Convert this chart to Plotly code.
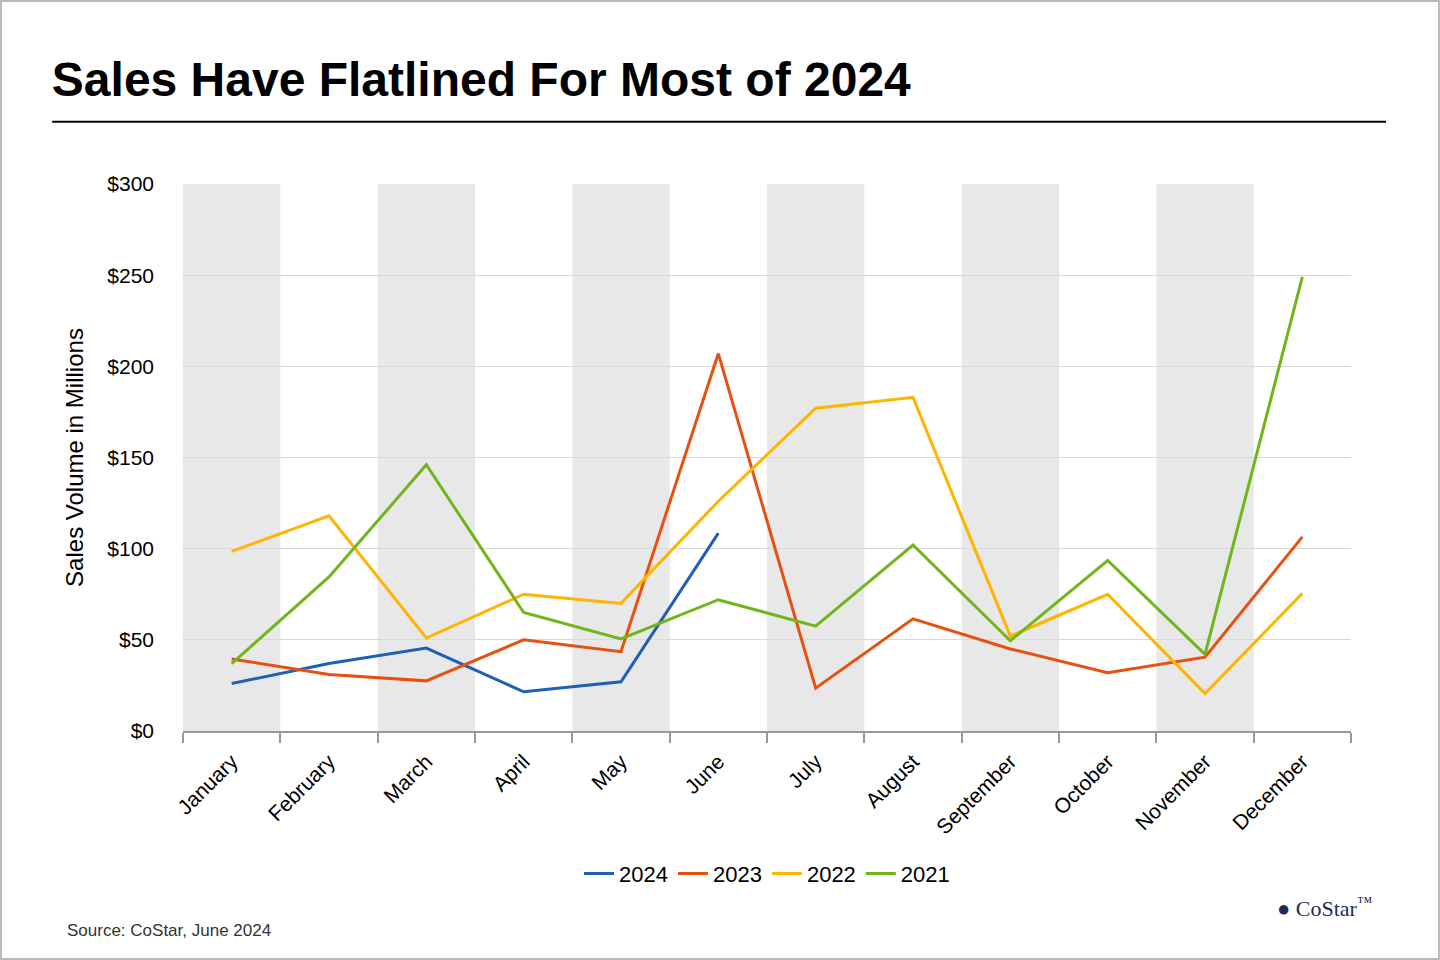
import plotly.graph_objects as go

months = ['January', 'February', 'March', 'April', 'May', 'June', 'July',
          'August', 'September', 'October', 'November', 'December']

sales_2024 = [26, 37, 45.5, 21.5, 27, 108.5]
sales_2023 = [39.5, 31, 27.5, 50, 43.5, 207, 23.5, 61.5, 45, 32, 40.5, 106.5]
sales_2022 = [98.5, 118, 51, 75, 70, 126, 177, 183, 52, 75, 20.5, 75.5]
sales_2021 = [37, 84.5, 146, 65, 50.5, 72, 57.5, 102, 49.5, 93.5, 42, 249]

series = [('2024', sales_2024, '#1f5fb4'),
          ('2023', sales_2023, '#e8500f'),
          ('2022', sales_2022, '#ffb400'),
          ('2021', sales_2021, '#72b51b')]

fig = go.Figure()

for name, vals, color in series:
    fig.add_trace(go.Scatter(x=months[:len(vals)], y=vals, name=name, mode='lines',
                             line=dict(color=color, width=3)))

# alternating shaded columns
shapes = []
for i in range(0, 12, 2):
    shapes.append(dict(type='rect', xref='x', yref='paper', x0=i - 0.5, x1=i + 0.5,
                       y0=0, y1=1, fillcolor='#e8e8e8', line_width=0, layer='below'))
shapes.append(dict(type='line', xref='paper', yref='paper', x0=-0.112, x1=1.03,
                   y0=1.114, y1=1.114, line=dict(color='black', width=2)))
shapes.append(dict(type='rect', xref='paper', yref='paper', x0=-0.1558, x1=1.0753,
                   y0=-0.4168, y1=1.3346, line=dict(color='#bbbbbb', width=2)))

fig.update_layout(
    width=1440, height=960,
    margin=dict(l=183, r=89, t=184, b=229),
    paper_bgcolor='white', plot_bgcolor='white',
    font=dict(family='Arial, Liberation Sans', size=20, color='black'),
    title=dict(text='<b>Sales Have Flatlined For Most of 2024</b>', x=0.036, xanchor='left',
               y=0.917, yanchor='middle', font=dict(size=48, color='black')),
    shapes=shapes,
    showlegend=True,
    legend=dict(orientation='h', x=0.5, xanchor='center', y=-0.261, yanchor='middle',
                font=dict(size=22), itemwidth=30, tracegroupgap=0),
    xaxis=dict(tickangle=-45, showgrid=False, showline=True, linecolor='#999999', linewidth=2,
               ticks='outside', tickson='boundaries', ticklen=10, tickwidth=2,
               tickcolor='#999999', range=[-0.5, 11.5], ticklabelstandoff=8,
               tickfont=dict(size=21)),
    yaxis=dict(range=[0, 300], dtick=50, tickprefix='$', gridcolor='#d9d9d9',
               zeroline=False, ticks='', ticklabelstandoff=28, tickfont=dict(size=21),
               title=dict(text='Sales Volume in Millions', standoff=16)),
    annotations=[
        dict(text='Source: CoStar, June 2024', xref='paper', yref='paper', x=-0.101, y=-0.365,
             xanchor='left', yanchor='middle', showarrow=False, font=dict(size=17, color='#333333')),
        dict(text='<b>●</b> CoStar<sup>™</sup>', xref='paper', yref='paper', x=1.02, y=-0.322,
             xanchor='right', yanchor='middle', showarrow=False,
             font=dict(size=22, color='#1a2b5c', family='Liberation Serif')),
    ],
)

fig.write_html('out.html', config={'displayModeBar': False},
               post_script="document.body.style.margin='0';")
